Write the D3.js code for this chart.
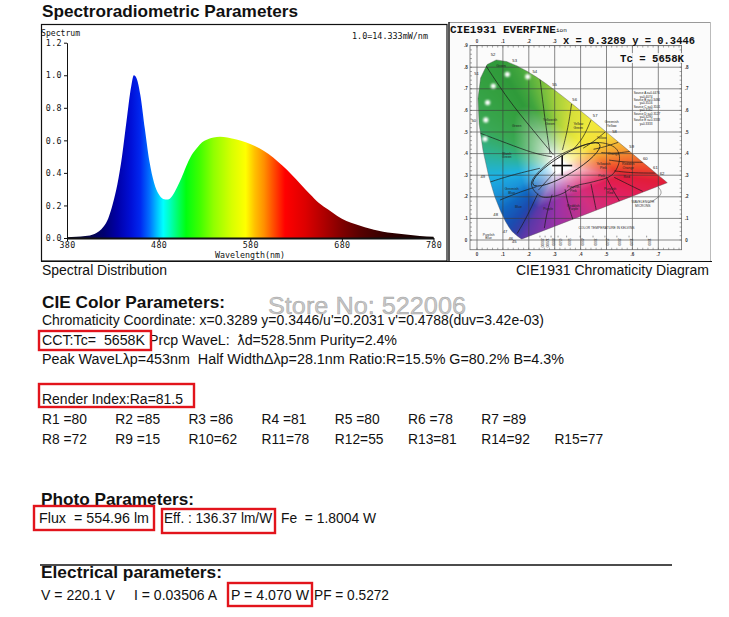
<!DOCTYPE html>
<html><head><meta charset="utf-8">
<script src="https://cdn.jsdelivr.net/npm/d3@7/dist/d3.min.js"></script>
<style>
html,body{margin:0;padding:0;background:#fff;}
svg{display:block;}
text{white-space:pre;}
</style></head><body>
<svg id="c" width="729" height="617"></svg>
<script>
// ---------------- DATA ----------------
const wavelengths = [380,390,400,410,420,425,430,435,440,445,450,453,456,460,465,470,475,480,485,490,495,500,505,510,515,520,525,530,535,540,547,555,565,575,585,595,605,615,625,635,645,655,665,675,685,695,705,715,725,735,745,755,765,780];
const spectrum    = [0.005,0.007,0.012,0.025,0.07,0.12,0.21,0.33,0.50,0.72,0.93,1.00,0.98,0.88,0.67,0.47,0.34,0.27,0.24,0.236,0.26,0.31,0.37,0.44,0.50,0.54,0.575,0.597,0.61,0.618,0.622,0.618,0.605,0.588,0.565,0.535,0.495,0.445,0.39,0.33,0.27,0.215,0.175,0.135,0.105,0.084,0.066,0.05,0.038,0.03,0.024,0.018,0.013,0.008];
const yTicks = [0,0.2,0.4,0.6,0.8,1.0,1.2];
const xTicks = [380,480,580,680,780];

// spectral colour ramp (wavelength, colour)
const specColorStops = [[380,"#0a0a1e"],[400,"#080840"],[420,"#000070"],[435,"#0000a8"],[450,"#0010d8"],[460,"#0028f0"],[470,"#0070ff"],[478,"#00c0ff"],[485,"#00ffff"],[492,"#00ffc0"],[500,"#00ff70"],[510,"#00ff10"],[525,"#40ff00"],[540,"#90ff00"],[560,"#d8ff00"],[575,"#ffff00"],[585,"#ffc000"],[595,"#ff9000"],[605,"#ff5000"],[618,"#ff0000"],[640,"#dd0000"],[660,"#b00000"],[680,"#800000"],[700,"#580000"],[730,"#300000"],[780,"#100000"]];

// CIE 1931 spectral locus
const locusNm = [380,400,420,430,440,450,460,465,470,475,480,485,490,495,500,505,510,515,520,525,530,535,540,545,550,555,560,565,570,575,580,585,590,595,600,605,610,620,630,640,650,660,680,700];
const locusX  = [0.1741,0.1733,0.1714,0.1689,0.1644,0.1566,0.1440,0.1355,0.1241,0.1096,0.0913,0.0687,0.0454,0.0235,0.0082,0.0039,0.0139,0.0389,0.0743,0.1142,0.1547,0.1929,0.2296,0.2658,0.3016,0.3373,0.3731,0.4087,0.4441,0.4788,0.5125,0.5448,0.5752,0.6029,0.6270,0.6482,0.6658,0.6915,0.7079,0.7190,0.7260,0.7300,0.7334,0.7347];
const locusY  = [0.0050,0.0048,0.0051,0.0069,0.0109,0.0177,0.0297,0.0399,0.0578,0.0868,0.1327,0.2007,0.2950,0.4127,0.5384,0.6548,0.7502,0.8120,0.8338,0.8262,0.8059,0.7816,0.7543,0.7243,0.6923,0.6589,0.6245,0.5896,0.5547,0.5202,0.4866,0.4544,0.4242,0.3965,0.3725,0.3514,0.3340,0.3083,0.2920,0.2809,0.2740,0.2700,0.2666,0.2653];
const locusLabelNm = [450,460,470,480,490,500,510,520,530,540,550,560,570,580,590,600,610,620];

// colour anchors of the diagram rim (x, y, colour)
const cieAnchors = [[0.7347,0.2653,"#e21d3a"],[0.6658,0.3340,"#ee4a2c"],[0.5752,0.4242,"#f5a032"],[0.5125,0.4866,"#f6de3a"],[0.4441,0.5547,"#f0ea3c"],[0.3731,0.6245,"#d6e03a"],[0.3016,0.6923,"#a4d03c"],[0.2296,0.7543,"#6cba3e"],[0.1547,0.8059,"#42a63e"],[0.0743,0.8338,"#2f9a3a"],[0.0139,0.7502,"#34a040"],[0.0082,0.5384,"#3aa855"],[0.0235,0.4127,"#2fb28e"],[0.0454,0.2950,"#1eb2e2"],[0.0687,0.2007,"#1a92d8"],[0.0913,0.1327,"#1068c2"],[0.1241,0.0578,"#1b4cb0"],[0.1440,0.0297,"#3040a8"],[0.1741,0.0050,"#5a38a8"],[0.30,0.063,"#9a32a8"],[0.45,0.135,"#d23080"],[0.60,0.205,"#e21f5c"]];

// region boundaries (x, y)
const kellyLines = [
  [[0.031,0.813],[0.121,0.648],[0.205,0.525],[0.295,0.394]],
  [[0.243,0.75],[0.262,0.56],[0.282,0.40]],
  [[0.365,0.63],[0.352,0.52],[0.33,0.417]],
  [[0.44,0.555],[0.41,0.47],[0.37,0.418]],
  [[0.495,0.50],[0.45,0.455],[0.41,0.425]],
  [[0.545,0.452],[0.49,0.43],[0.45,0.42]],
  [[0.59,0.41],[0.53,0.40],[0.48,0.405]],
  [[0.64,0.36],[0.57,0.36],[0.51,0.37]],
  [[0.69,0.31],[0.60,0.31],[0.53,0.32]],
  [[0.00,0.50],[0.115,0.448],[0.22,0.40],[0.29,0.385]],
  [[0.03,0.26],[0.13,0.30],[0.243,0.332]],
  [[0.089,0.185],[0.16,0.22],[0.23,0.247]],
  [[0.155,0.03],[0.19,0.10],[0.235,0.215]],
  [[0.26,0.055],[0.27,0.13],[0.29,0.21]],
  [[0.37,0.095],[0.35,0.17],[0.34,0.235]],
  [[0.46,0.14],[0.45,0.20],[0.44,0.26]],
  [[0.55,0.18],[0.52,0.24],[0.50,0.29]],
  [[0.64,0.225],[0.58,0.26],[0.53,0.29]]
];
const outerLoop = [[0.21,0.26],[0.25,0.33],[0.33,0.40],[0.45,0.45],[0.53,0.43],[0.55,0.37],[0.52,0.30],[0.45,0.27],[0.38,0.25],[0.32,0.21],[0.25,0.20]];
const regionLabels = [["Green",0.093,0.80],["Green",0.153,0.525],["Yellowish Green",0.282,0.551],["Yellow Green",0.391,0.532],["Greenish Yellow",0.52,0.54],["Yellow",0.481,0.468],["Orange",0.527,0.394],["Yellowish Pink",0.488,0.347],["Reddish Orange",0.584,0.347],["Pink",0.481,0.293],["Red",0.578,0.286],["Purplish Red",0.514,0.231],["Purplish Pink",0.372,0.239],["Reddish Purple",0.372,0.154],["Purple",0.275,0.139],["Blue",0.160,0.147],["Greenish Blue",0.134,0.231],["Bluish Green",0.115,0.394]];
const glareDots = [[0.117,0.767],[0.196,0.756],[0.063,0.713],[0.041,0.636],[0.034,0.556],[0.031,0.468]];
const cieTicksX = [0,0.1,0.2,0.3,0.4,0.5,0.6,0.7];
const cieTopTicks = [0,0.1,0.2,0.3];
const cieTicksY = [0,0.1,0.2,0.3,0.4,0.5,0.6,0.7,0.8,0.9];
const cieRightTicks = [0,0.1,0.2,0.3,0.4,0.5,0.6,0.7,0.8];
const cctLabels = [["20000",0.243],["12000",0.263],["8000",0.286],["6500",0.313],["5000",0.346],["4000",0.398],["3000",0.448],["2500",0.494],["2000",0.540],["1500",0.587],["1000",0.655]];
const sourceTable = ["Source A x=0.4476","y=0.4074","Source B x=0.3484","y=0.3516","Source C x=0.3101","y=0.3162","Source D x=0.3127","y=0.3290","Source E x=0.3333","y=0.3333"];
const measuredXY = [0.3289,0.3446];

const cieLine1 = "x = 0.3289 y = 0.3446";
const cieLine2 = "Tc = 5658K";
const paramLines = ["Chromaticity Coordinate: x=0.3289 y=0.3446/u'=0.2031 v'=0.4788(duv=3.42e-03)",
  "CCT:Tc=  5658K Prcp WaveL:  \u019Bd=528.5nm Purity=2.4%",
  "Peak WaveL\u03BBp=453nm  Half Width\u0394\u03BBp=28.1nm Ratio:R=15.5% G=80.2% B=4.3%"];
const renderLine = "Render Index:Ra=81.5";
const rIndexRow1 = ["R1 =80","R2 =85","R3 =86","R4 =81","R5 =80","R6 =78","R7 =89"];
const rIndexRow2 = ["R8 =72","R9 =15","R10=62","R11=78","R12=55","R13=81","R14=92","R15=77"];
const photoItems = ["Flux  = 554.96 lm","Eff. : 136.37 lm/W","Fe  = 1.8004 W"];
const elecItems = ["V = 220.1 V","I = 0.03506 A","P = 4.070 W","PF = 0.5272"];

// ---------------- DRAW ----------------
const svg = d3.select("#c");
const defs = svg.append("defs");
const SANS = "'Liberation Sans', Arial, sans-serif";
const MONO = "'DejaVu Sans Mono', monospace";

function txt(x,y,s,opt){
  const t = svg.append("text").attr("x",x).attr("y",y).attr("font-family",opt.family||SANS)
    .attr("font-size",opt.size||13.8).attr("fill",opt.fill||"#111").text(s);
  if(opt.weight) t.attr("font-weight",opt.weight);
  if(opt.len){ t.attr("textLength",opt.len).attr("lengthAdjust","spacingAndGlyphs"); }
  if(opt.anchor) t.attr("text-anchor",opt.anchor);
  return t;
}

txt(42,17,"Spectroradiometric Parameters",{size:17,weight:"bold",len:256});

// spectrum box
svg.append("rect").attr("x",41.5).attr("y",24.5).attr("width",405.5).attr("height",236.5).attr("fill","none").attr("stroke","#111").attr("stroke-width",1.2);

const xs = d3.scaleLinear().domain([380,780]).range([67,433.5]);
const ys = d3.scaleLinear().domain([0,1.2]).range([238,42.7]);

const grad = defs.append("linearGradient").attr("id","specGrad").attr("gradientUnits","userSpaceOnUse")
  .attr("x1",xs(380)).attr("x2",xs(780)).attr("y1",0).attr("y2",0);
specColorStops.forEach(s=>grad.append("stop").attr("offset",(s[0]-380)/400).attr("stop-color",s[1]));

const specData = wavelengths.map((w,i)=>({w,v:spectrum[i]}));
const area = d3.area().x(d=>xs(d.w)).y0(ys(0)).y1(d=>ys(d.v)).curve(d3.curveMonotoneX);
svg.append("path").datum(specData).attr("d",area).attr("fill","url(#specGrad)");

const yAxis = svg.append("g").attr("transform",`translate(${xs(380)},0)`)
  .call(d3.axisLeft(ys).tickValues(yTicks).tickSize(3).tickSizeOuter(0).tickPadding(2).tickFormat(d3.format(".1f")));
const xAxis = svg.append("g").attr("transform",`translate(0,${ys(0)})`)
  .call(d3.axisBottom(xs).tickValues(xTicks).tickSize(3).tickSizeOuter(0).tickPadding(1).tickFormat(d3.format("d")));
[yAxis,xAxis].forEach(a=>{
  a.selectAll("text").attr("font-family",MONO).attr("font-size",8.3).attr("fill","#111").attr("letter-spacing",0.4);
  a.selectAll("line").attr("stroke","#111");
  a.select(".domain").attr("stroke","#111");
});
xAxis.select(".domain").attr("stroke-width",2);
txt(41,36,"Spectrum",{family:MONO,size:8,len:39});
txt(352,39,"1.0=14.333mW/nm",{family:MONO,size:8,len:76});
txt(250,258,"Wavelength(nm)",{family:MONO,size:8.3,anchor:"middle",len:70});
txt(42,275,"Spectral Distribution",{size:14,len:125});
txt(709,275,"CIE1931 Chromaticity Diagram",{size:14,anchor:"end",len:193});

// ---------------- CIE diagram ----------------
const cx = d3.scaleLinear().domain([0,1]).range([477,736]);
const cy = d3.scaleLinear().domain([0,1]).range([240,24]);
const cie = svg.append("g");
defs.append("clipPath").attr("id","cieFrame").append("rect").attr("x",449).attr("y",22).attr("width",262).attr("height",240);
cie.attr("clip-path","url(#cieFrame)");
cie.append("rect").attr("x",449).attr("y",22).attr("width",262).attr("height",240).attr("fill","#fbfbfb");

const locusPts = locusNm.map((n,i)=>[locusX[i],locusY[i]]);
const locusPix = locusPts.map(p=>[cx(p[0]),cy(p[1])]);
defs.append("clipPath").attr("id","locusClip").append("path").attr("d","M"+locusPix.map(p=>p.join(",")).join("L")+"Z");

// raster colour fill
const WP = [0.32,0.34];
const anchors = cieAnchors.map(a=>({th:Math.atan2(a[1]-WP[1],a[0]-WP[0]),c:d3.rgb(a[2])})).sort((a,b)=>a.th-b.th);
function hueAt(th){
  const n=anchors.length;
  for(let k=0;k<n;k++){
    const a=anchors[k], b=anchors[(k+1)%n];
    let ta=a.th, tb=b.th, t=th;
    if(k===n-1){ tb+=2*Math.PI; if(t<ta) t+=2*Math.PI; }
    if(t>=ta && t<=tb){ const f=(t-ta)/(tb-ta); return d3.interpolateRgb(a.c,b.c)(f); }
  }
  return anchors[0].c;
}
function rimDist(th){
  const d=[Math.cos(th),Math.sin(th)]; let best=Infinity;
  for(let k=0;k<locusPts.length;k++){
    const p=locusPts[k], q=locusPts[(k+1)%locusPts.length];
    const e=[q[0]-p[0],q[1]-p[1]], w=[p[0]-WP[0],p[1]-WP[1]];
    const det=-d[0]*e[1]+e[0]*d[1]; if(Math.abs(det)<1e-12) continue;
    const t=(-w[0]*e[1]+e[0]*w[1])/det, s=(d[0]*w[1]-w[0]*d[1])/det;
    if(t>0 && s>=-1e-9 && s<=1+1e-9 && t<best) best=t;
  }
  return best;
}
const NB=720, bins=[], hues=[];
for(let b=0;b<NB;b++){ const th=-Math.PI+ (b+0.5)*2*Math.PI/NB; bins.push(rimDist(th)); hues.push(d3.rgb(hueAt(th))); }
const bx0=Math.floor(cx(-0.01)), bx1=Math.ceil(cx(0.75)), by0=Math.floor(cy(0.85)), by1=Math.ceil(cy(-0.01));
const SC=2, cw=(bx1-bx0)*SC, chh=(by1-by0)*SC;
const canvas=document.createElement("canvas"); canvas.width=cw; canvas.height=chh;
const ctx=canvas.getContext("2d"); const img=ctx.createImageData(cw,chh);
for(let j=0;j<chh;j++){
  for(let i=0;i<cw;i++){
    const x=cx.invert(bx0+(i+0.5)/SC), y=cy.invert(by0+(j+0.5)/SC);
    const th=Math.atan2(y-WP[1],x-WP[0]);
    let b=Math.floor((th+Math.PI)/(2*Math.PI)*NB); if(b>=NB) b=NB-1; if(b<0) b=0;
    const r=Math.min(1,Math.hypot(x-WP[0],y-WP[1])/bins[b]);
    const g=Math.pow(Math.max(0,Math.min(1,(r-0.10)/0.47)),0.72);
    const h=hues[b];
    const o=(j*cw+i)*4;
    img.data[o]=255+(h.r-255)*g; img.data[o+1]=255+(h.g-255)*g; img.data[o+2]=255+(h.b-255)*g; img.data[o+3]=255;
  }
}
ctx.putImageData(img,0,0);
cie.append("image").attr("href",canvas.toDataURL()).attr("x",bx0).attr("y",by0)
  .attr("width",bx1-bx0).attr("height",by1-by0).attr("preserveAspectRatio","none").attr("clip-path","url(#locusClip)");

// grid and rulers
const gx0=-0.027, gx1=0.79, gy0=-0.045, gy1=0.9;
const grid=cie.append("g").attr("stroke","#3a3a3a").attr("stroke-width",0.8).attr("opacity",0.75);
cieTicksX.forEach(v=>grid.append("line").attr("x1",cx(v)).attr("x2",cx(v)).attr("y1",cy(gy0)).attr("y2",cy(gy1)));
cieTicksY.forEach(v=>grid.append("line").attr("y1",cy(v)).attr("y2",cy(v)).attr("x1",cx(gx0)).attr("x2",cx(gx1)));
grid.append("rect").attr("x",cx(gx0)).attr("y",cy(gy1)).attr("width",cx(gx1)-cx(gx0)).attr("height",cy(gy0)-cy(gy1)).attr("fill","none");
const minor=cie.append("g").attr("stroke","#555").attr("stroke-width",0.5);
d3.range(0,0.79,0.02).forEach(v=>{
  minor.append("line").attr("x1",cx(v)).attr("x2",cx(v)).attr("y1",cy(gy1)).attr("y2",cy(gy1)+2);
  minor.append("line").attr("x1",cx(v)).attr("x2",cx(v)).attr("y1",cy(gy0)).attr("y2",cy(gy0)-2);
});
d3.range(0,0.9,0.02).forEach(v=>{
  minor.append("line").attr("y1",cy(v)).attr("y2",cy(v)).attr("x1",cx(gx0)).attr("x2",cx(gx0)+2);
  minor.append("line").attr("y1",cy(v)).attr("y2",cy(v)).attr("x1",cx(gx1)).attr("x2",cx(gx1)-2);
});
const tickFmt = v=> v===0 ? "0" : d3.format(".1f")(v).replace(/^0/,"");
const tl=cie.append("g").attr("font-family",SANS).attr("font-size",4.5).attr("font-weight","bold").attr("fill","#333").attr("text-anchor","middle");
cieTicksX.forEach(v=>tl.append("text").attr("x",cx(v)).attr("y",cy(gy0)+6).text(tickFmt(v)));
cieTopTicks.forEach(v=>tl.append("text").attr("x",cx(v)).attr("y",cy(gy1)-2.5).text(tickFmt(v)));
cieTicksY.forEach(v=>tl.append("text").attr("x",cx(gx0)-4).attr("y",cy(v)+1.5).text(tickFmt(v)));
cieRightTicks.forEach(v=>tl.append("text").attr("x",cx(gx1)+5).attr("y",cy(v)+1.5).text(tickFmt(v)));

// locus outline
cie.append("path").attr("d","M"+locusPix.map(p=>p.join(",")).join("L")+"Z").attr("fill","none").attr("stroke","#555").attr("stroke-width",0.4);

// region lines
const kl=d3.line().x(d=>cx(d[0])).y(d=>cy(d[1])).curve(d3.curveBasis);
const rl=cie.append("g").attr("clip-path","url(#locusClip)").attr("fill","none").attr("stroke","#1a1a1a").attr("stroke-width",0.7);
kellyLines.forEach(l=>rl.append("path").attr("d",kl(l)));
rl.append("path").attr("d",d3.line().x(d=>cx(d[0])).y(d=>cy(d[1])).curve(d3.curveCardinalClosed)(outerLoop));
// inner white ellipse
cie.append("ellipse").attr("cx",cx(0.345)).attr("cy",cy(0.35)).attr("rx",(cx(0.15)-cx(0))).attr("ry",(cy(0)-cy(0.045)))
  .attr("transform",`rotate(-31,${cx(0.345)},${cy(0.35)})`).attr("fill","none").attr("stroke","#1a1a1a").attr("stroke-width",0.8);
// planckian arrow line
cie.append("path").attr("d",kl([[0.237,0.231],[0.27,0.275],[0.301,0.316]])).attr("fill","none").attr("stroke","#222").attr("stroke-width",0.7);

// glare dots
const blur=defs.append("filter").attr("id","glow").attr("x","-1").attr("y","-1").attr("width","3").attr("height","3");
blur.append("feGaussianBlur").attr("stdDeviation",0.9);
glareDots.forEach(d=>cie.append("circle").attr("cx",cx(d[0])).attr("cy",cy(d[1])).attr("r",2.6).attr("fill","#fff").attr("filter","url(#glow)"));

// region labels
const rlab=cie.append("g").attr("font-family",SANS).attr("font-size",3.4).attr("fill","#222").attr("text-anchor","middle");
regionLabels.forEach(r=>{
  const t=rlab.append("text").attr("x",cx(r[1])).attr("y",cy(r[2]));
  r[0].split(" ").forEach((w,i)=>t.append("tspan").attr("x",cx(r[1])).attr("dy",i?3.6:0).text(w));
});
// wavelength labels
const wl=cie.append("g").attr("font-family",SANS).attr("font-size",4.2).attr("fill","#222").attr("text-anchor","middle");
locusLabelNm.forEach(n=>{
  const i=locusNm.indexOf(n); const p=locusPix[i];
  const c=[cx(0.33),cy(0.33)]; const dx=p[0]-c[0], dy=p[1]-c[1]; const L=Math.hypot(dx,dy);
  wl.append("text").attr("x",p[0]+dx/L*6).attr("y",p[1]+dy/L*6+1.5).text(String(n/10));
});
// CCT scale
const cl=cie.append("g").attr("font-family",SANS).attr("font-size",3.3).attr("fill","#333");
cctLabels.forEach(c=>{
  cl.append("line").attr("x1",cx(c[1])).attr("x2",cx(c[1])).attr("y1",cy(0.02)).attr("y2",cy(0.012)).attr("stroke","#333").attr("stroke-width",0.5);
  cl.append("text").attr("transform",`translate(${cx(c[1])+1.2},${cy(0.008)}) rotate(90)`).text(c[0]);
});
cl.append("text").attr("x",cx(0.50)).attr("y",cy(0.05)).attr("text-anchor","middle").text("COLOR TEMPERATURE IN KELVINS");
cl.append("text").attr("x",cx(0.64)).attr("y",cy(0.17)).attr("text-anchor","middle").text("WAVELENGTH");
cl.append("text").attr("x",cx(0.64)).attr("y",cy(0.17)+3.6).attr("text-anchor","middle").text("MICRONS");
cie.append("path").attr("d",kl([[0.70,0.245],[0.72,0.215],[0.68,0.18],[0.66,0.172]])).attr("fill","none").attr("stroke","#444").attr("stroke-width",0.5);
cl.append("text").attr("x",cx(0.045)).attr("y",cy(0.02)).attr("text-anchor","middle").text("Purplish");
cl.append("text").attr("x",cx(0.045)).attr("y",cy(0.02)+3.6).attr("text-anchor","middle").text("Blue");
const st=cie.append("g").attr("font-family",SANS).attr("font-size",3.1).attr("fill","#222");
sourceTable.forEach((s,i)=>st.append("text").attr("x",i%2? cx(0.628):cx(0.605)).attr("y",cy(0.675)+i*3.4).text(s));

// cross hair at measured point
const mx=cx(measuredXY[0]), my=cy(measuredXY[1]);
cie.append("line").attr("x1",mx-10).attr("x2",mx+10).attr("y1",my).attr("y2",my).attr("stroke","#111").attr("stroke-width",1.6);
cie.append("line").attr("x1",mx).attr("x2",mx).attr("y1",my-10).attr("y2",my+10).attr("stroke","#111").attr("stroke-width",1.6);

// CIE texts
const ct=cie.append("g").attr("font-family","'Liberation Mono', 'Courier New', monospace").attr("font-weight","bold").attr("fill","#111");
ct.append("rect").attr("x",449).attr("y",23).attr("width",112).attr("height",11).attr("fill","#fbfbfb");
ct.append("text").attr("x",450).attr("y",33).attr("font-size",11).attr("textLength",106).attr("lengthAdjust","spacingAndGlyphs").text("CIE1931 EVERFINE");
ct.append("text").attr("x",556).attr("y",32).attr("font-size",6).attr("font-weight","normal").text("ion");
ct.append("rect").attr("x",562).attr("y",35).attr("width",135).attr("height",10).attr("fill","#fbfbfb").attr("opacity",0.8);
ct.append("text").attr("x",563).attr("y",44).attr("font-size",11).attr("textLength",132).attr("lengthAdjust","spacingAndGlyphs").text(cieLine1);
ct.append("rect").attr("x",619).attr("y",53).attr("width",66).attr("height",10).attr("fill","#fbfbfb").attr("opacity",0.8);
ct.append("text").attr("x",620).attr("y",62).attr("font-size",11).attr("textLength",64).attr("lengthAdjust","spacingAndGlyphs").text(cieLine2);

// CIE frame
svg.append("line").attr("x1",449).attr("x2",711).attr("y1",22.5).attr("y2",22.5).attr("stroke","#999");
svg.append("line").attr("x1",710.5).attr("x2",710.5).attr("y1",22).attr("y2",262).attr("stroke","#bbb");
svg.append("line").attr("x1",449).attr("x2",449).attr("y1",22).attr("y2",262).attr("stroke","#111").attr("stroke-width",1.4);
svg.append("line").attr("x1",41).attr("x2",712).attr("y1",261.5).attr("y2",261.5).attr("stroke","#111").attr("stroke-width",1.2);

// ---------------- Parameters text ----------------
txt(42,308,"CIE Color Parameters:",{size:17,weight:"bold",len:183});
const lineLens=[502,355,522];
const lineYs=[325,344.5,364];
paramLines.forEach((s,i)=>txt(42,lineYs[i],s,{size:13.8,len:lineLens[i]}));
txt(42,404,renderLine,{size:13.8,len:141});
rIndexRow1.forEach((s,i)=>txt(42+73.2*i,424,s,{size:13.8}));
rIndexRow2.forEach((s,i)=>txt(42+73.2*i,444,s,{size:13.8}));

txt(41,505,"Photo Parameters:",{size:17,weight:"bold",len:153});
const photoX=[39,164,281], photoLen=[110,108,95];
photoItems.forEach((s,i)=>txt(photoX[i],523,s,{size:13.8,len:photoLen[i]}));
svg.append("line").attr("x1",40).attr("x2",672).attr("y1",565).attr("y2",565).attr("stroke","#111").attr("stroke-width",1.3);
txt(41,578,"Electrical parameters:",{size:17,weight:"bold",len:181});
const elecX=[41,134,231,314], elecLen=[74,83,78,75];
elecItems.forEach((s,i)=>txt(elecX[i],600,s,{size:13.8,len:elecLen[i]}));

// red highlight boxes
const boxes=[[39,331,112,19],[39,384,155,23],[34,506,120,24],[162,509,113,24],[228,583,84,23]];
boxes.forEach(b=>svg.append("rect").attr("x",b[0]).attr("y",b[1]).attr("width",b[2]).attr("height",b[3])
  .attr("fill","none").attr("stroke","#e2141c").attr("stroke-width",2.4));

// watermark (it lies over the coordinate line in the reference)
svg.append("text").attr("x",268).attr("y",314).attr("font-family",SANS).attr("font-size",24)
  .attr("textLength",198).attr("lengthAdjust","spacingAndGlyphs")
  .attr("fill","#b8b8b8").attr("fill-opacity",0.8).attr("stroke","#8c8c8c").attr("stroke-width",0.5).attr("stroke-opacity",0.7)
  .text("Store No: 522006");
</script>
</body></html>
